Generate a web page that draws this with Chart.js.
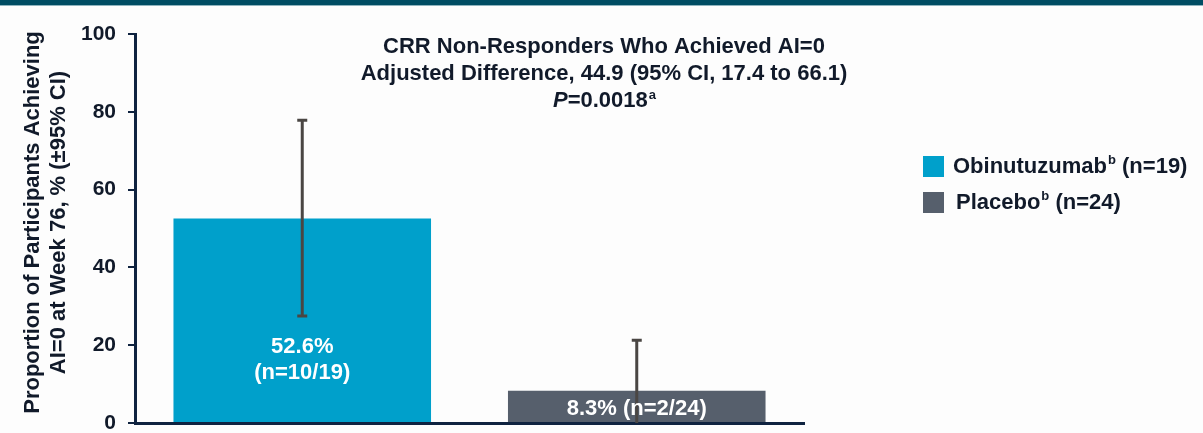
<!DOCTYPE html>
<html>
<head>
<meta charset="utf-8">
<script src="https://cdn.jsdelivr.net/npm/chart.js@4.4.1/dist/chart.umd.min.js"></script>
<style>
    html, body { margin: 0; padding: 0; background: #fdfdfd; }
    #wrap { width: 1203px; height: 433px; position: relative; }
</style>
</head>
<body>
<div id="wrap"><canvas id="barchart_ai0"></canvas></div>
<script>
// data
const groups = ['Obinutuzumab', 'Placebo'];
const legendN = ['(n=19)', '(n=24)'];
const proportions = [52.6, 8.3];
const ciLower = [27.5, 0];
const ciUpper = [77.8, 21.3];
const barLabels = [['52.6%', '(n=10/19)'], ['8.3% (n=2/24)']];
const barColors = ['#00a0cb', '#565f6c'];
const titleLines = ['CRR Non-Responders Who Achieved AI=0', 'Adjusted Difference, 44.9 (95% CI, 17.4 to 66.1)'];
const pValue = '=0.0018';
const yTitle = ['Proportion of Participants Achieving', 'AI=0 at Week 76, % (\u00b195% CI)'];

const textColor = '#111a2a';
const axisColor = '#0f2340';
const FONT = '"Liberation Sans", Arial, sans-serif';

const extrasPlugin = {
    id: 'extras',
    beforeDraw: (chart) => {
        const ctx = chart.ctx;
        ctx.save();
        ctx.fillStyle = '#fdfdfd';
        ctx.fillRect(0, 0, chart.width, chart.height);
        // band across the top of the slide
        ctx.fillStyle = '#004d63';
        ctx.fillRect(0, 0, chart.width, 5);
        ctx.fillStyle = '#8fb4be';
        ctx.fillRect(0, 5, chart.width, 1);
        ctx.restore();
    },
    afterDatasetsDraw: (chart) => {
        const ctx = chart.ctx;
        const y = chart.scales.y;
        const meta = chart.getDatasetMeta(0);
        ctx.save();

        // error bars
        ctx.strokeStyle = '#4a4643';
        ctx.lineWidth = 3;
        meta.data.forEach((bar, i) => {
            const top = y.getPixelForValue(ciUpper[i]);
            const bot = y.getPixelForValue(ciLower[i]);
            ctx.beginPath();
            ctx.moveTo(bar.x, top);
            ctx.lineTo(bar.x, bot);
            ctx.moveTo(bar.x - 5, top);
            ctx.lineTo(bar.x + 5, top);
            if (ciLower[i] > 0) {
                ctx.moveTo(bar.x - 5, bot);
                ctx.lineTo(bar.x + 5, bot);
            }
            ctx.stroke();
        });

        // labels inside bars
        ctx.fillStyle = '#ffffff';
        ctx.font = 'bold 22px ' + FONT;
        ctx.textAlign = 'center';
        ctx.textBaseline = 'middle';
        meta.data.forEach((bar, i) => {
            const lines = barLabels[i];
            if (lines.length === 1) {
                ctx.fillText(lines[0], bar.x, (bar.y + bar.base) / 2 + 3);
            } else {
                ctx.fillText(lines[0], bar.x, bar.base - 75);
                ctx.fillText(lines[1], bar.x, bar.base - 49);
            }
        });

        // title block
        ctx.fillStyle = textColor;
        ctx.font = 'bold 22px ' + FONT;
        const cx = 604;
        ctx.fillText(titleLines[0], cx, 47);
        ctx.fillText(titleLines[1], cx, 74);
        ctx.font = 'bold italic 22px ' + FONT;
        const pW = ctx.measureText('P').width;
        ctx.font = 'bold 22px ' + FONT;
        const restW = ctx.measureText(pValue).width;
        ctx.font = 'bold 13px ' + FONT;
        const supW = ctx.measureText('a').width;
        let x0 = cx - (pW + restW + supW) / 2;
        ctx.textAlign = 'left';
        ctx.font = 'bold italic 22px ' + FONT;
        ctx.fillText('P', x0, 101);
        ctx.font = 'bold 22px ' + FONT;
        ctx.fillText(pValue, x0 + pW, 101);
        ctx.font = 'bold 13px ' + FONT;
        ctx.fillText('a', x0 + pW + restW + 1, 95);

        // legend
        groups.forEach((g, i) => {
            const ly = 166 + i * 36;
            ctx.fillStyle = barColors[i];
            ctx.fillRect(923, ly - 10, 21, 21);
            ctx.fillStyle = textColor;
            let tx = i === 0 ? 953 : 956;
            ctx.font = 'bold 22px ' + FONT;
            ctx.fillText(g, tx, ly + 1);
            tx += ctx.measureText(g).width + 1;
            ctx.font = 'bold 13px ' + FONT;
            ctx.fillText('b', tx, ly - 6);
            tx += ctx.measureText('b').width;
            ctx.font = 'bold 22px ' + FONT;
            ctx.fillText(' ' + legendN[i], tx, ly + 1);
        });

        // y axis title
        const area = chart.chartArea;
        ctx.save();
        ctx.translate(0, (area.top + area.bottom) / 2 - 6);
        ctx.rotate(-Math.PI / 2);
        ctx.textAlign = 'center';
        ctx.font = 'bold 22px ' + FONT;
        ctx.fillText(yTitle[0], 0, 33);
        ctx.fillText(yTitle[1], 0, 59);
        ctx.restore();

        ctx.restore();
    }
};

new Chart('barchart_ai0', {
    type: 'bar',
    data: {
        labels: groups,
        datasets: [{
            data: proportions,
            backgroundColor: barColors,
            borderWidth: 0,
            barPercentage: 0.77,
            categoryPercentage: 1.0
        }]
    },
    plugins: [extrasPlugin],
    options: {
        responsive: true,
        maintainAspectRatio: false,
        animation: false,
        layout: {
            padding: { left: 0, right: 399, top: 34, bottom: 10 }
        },
        plugins: {
            legend: { display: false },
            tooltip: { enabled: false }
        },
        scales: {
            x: {
                ticks: { display: false },
                grid: { display: false, drawTicks: false },
                border: { color: axisColor, width: 3 },
                afterFit: (scale) => { scale.height = 0; }
            },
            y: {
                min: 0,
                max: 100,
                ticks: {
                    stepSize: 20,
                    padding: 12,
                    color: textColor,
                    font: { family: FONT, size: 21, weight: 'bold' }
                },
                grid: {
                    drawOnChartArea: false,
                    drawTicks: true,
                    tickLength: 7,
                    color: axisColor,
                    lineWidth: 2
                },
                border: { color: axisColor, width: 3 },
                afterFit: (scale) => {
                    scale.width = 135;
                    // let the "0" label hang below the axis, as in the slide
                    scale.paddingTop = 0;
                    scale.paddingBottom = 0;
                }
            }
        }
    }
});
</script>
</body>
</html>
